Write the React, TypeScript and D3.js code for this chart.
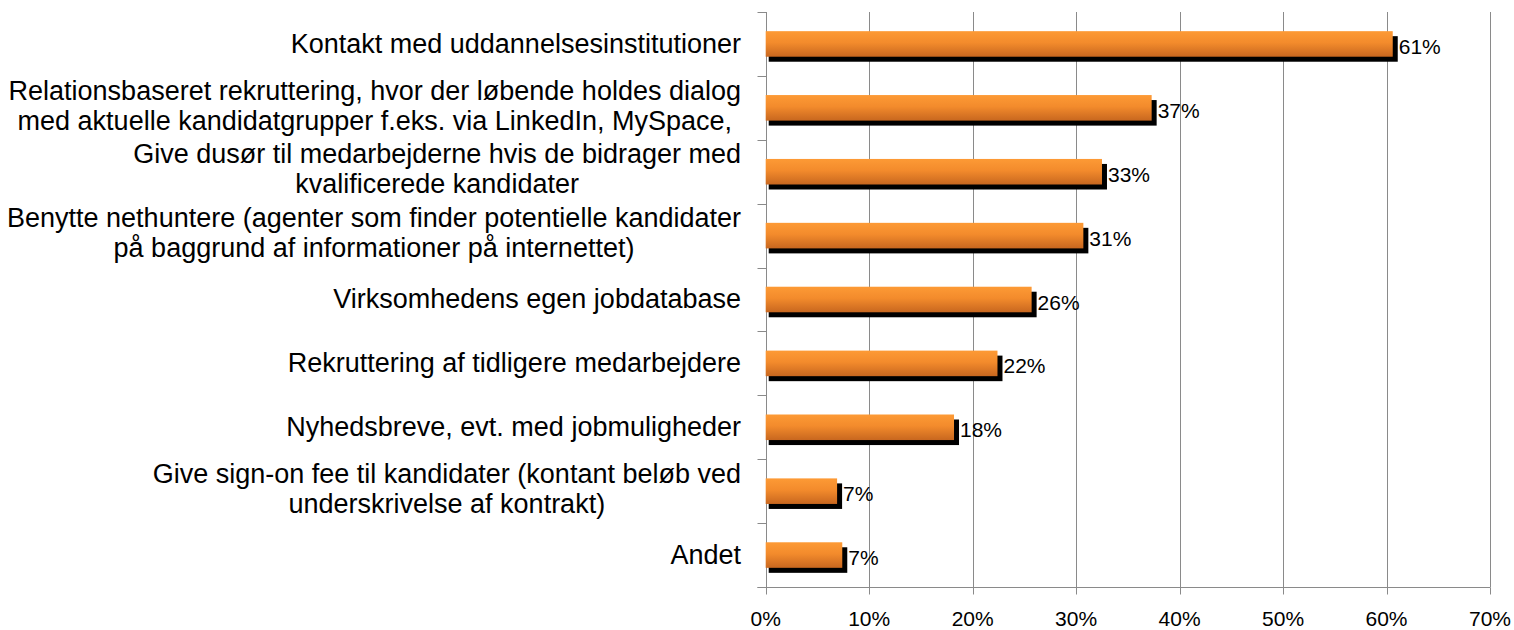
import React, { useEffect, useRef } from "react";
import * as d3 from "d3";

// category labels (line breaks as in the original chart)
const categories = [
  "Kontakt med uddannelsesinstitutioner",
  "Relationsbaseret rekruttering, hvor der løbende holdes dialog\nmed aktuelle kandidatgrupper f.eks. via LinkedIn, MySpace,",
  "Give dusør til medarbejderne hvis de bidrager med\nkvalificerede kandidater",
  "Benytte nethuntere (agenter som finder potentielle kandidater\npå baggrund af informationer på internettet)",
  "Virksomhedens egen jobdatabase",
  "Rekruttering af tidligere medarbejdere",
  "Nyhedsbreve, evt. med jobmuligheder",
  "Give sign-on fee til kandidater (kontant beløb ved\nunderskrivelse af kontrakt)",
  "Andet",
];

const values = [60.6, 37.3, 32.5, 30.7, 25.7, 22.4, 18.2, 6.9, 7.4];

const xTicks = [0, 10, 20, 30, 40, 50, 60, 70];

const App = () => {
  const ref = useRef<SVGSVGElement>(null);

  useEffect(() => {
    const width = 1514;
    const height = 630;
    const margin = { top: 12, right: 24, bottom: 43, left: 765.7 };
    const font = "'Liberation Sans', Arial, sans-serif";

    const svg = d3.select(ref.current);
    svg.selectAll("*").remove();
    svg.attr("width", width).attr("height", height);

    const x = d3
      .scaleLinear()
      .domain([0, 70])
      .range([margin.left, width - margin.right]);
    const y = d3
      .scaleBand<string>()
      .domain(categories)
      .range([margin.top, height - margin.bottom])
      .paddingInner(0.6)
      .paddingOuter(0.3);

    const defs = svg.append("defs");
    const grad = defs
      .append("linearGradient")
      .attr("id", "barGrad")
      .attr("x1", 0)
      .attr("y1", 0)
      .attr("x2", 0)
      .attr("y2", 1);
    grad.append("stop").attr("offset", "0%").attr("stop-color", "#fd9a35");
    grad.append("stop").attr("offset", "45%").attr("stop-color", "#f38b2c");
    grad.append("stop").attr("offset", "100%").attr("stop-color", "#c8671f");

    const axisColor = "#8a8a8a";
    const top = margin.top;
    const bottom = height - margin.bottom;

    // vertical grid
    svg
      .append("g")
      .selectAll("line")
      .data(xTicks.slice(1))
      .join("line")
      .attr("x1", (d) => Math.round(x(d)) + 0.5)
      .attr("x2", (d) => Math.round(x(d)) + 0.5)
      .attr("y1", top)
      .attr("y2", bottom)
      .attr("stroke", axisColor)
      .attr("stroke-width", 1);

    // y axis line + tick marks at band borders
    const ax0 = Math.round(x(0)) + 0.5;
    svg
      .append("line")
      .attr("x1", ax0)
      .attr("x2", ax0)
      .attr("y1", top)
      .attr("y2", bottom)
      .attr("stroke", axisColor);
    const step = y.step();
    const borders = d3.range(categories.length + 1).map((i) => top + i * step);
    svg
      .append("g")
      .selectAll("line")
      .data(borders)
      .join("line")
      .attr("x1", ax0 - 9)
      .attr("x2", ax0)
      .attr("y1", (d) => Math.round(d) + 0.5)
      .attr("y2", (d) => Math.round(d) + 0.5)
      .attr("stroke", axisColor);

    // x axis line + ticks + labels
    const by = Math.round(bottom) + 0.5;
    svg
      .append("line")
      .attr("x1", ax0 - 9)
      .attr("x2", Math.round(x(70)) + 0.5)
      .attr("y1", by)
      .attr("y2", by)
      .attr("stroke", axisColor);
    svg
      .append("g")
      .selectAll("line")
      .data(xTicks)
      .join("line")
      .attr("x1", (d) => Math.round(x(d)) + 0.5)
      .attr("x2", (d) => Math.round(x(d)) + 0.5)
      .attr("y1", by)
      .attr("y2", by + 7)
      .attr("stroke", axisColor);
    svg
      .append("g")
      .selectAll("text")
      .data(xTicks)
      .join("text")
      .attr("x", (d) => x(d))
      .attr("y", 626)
      .attr("text-anchor", "middle")
      .attr("font-family", font)
      .attr("font-size", "21px")
      .attr("fill", "#000")
      .text((d) => `${d}%`);

    // bars with shadow
    const bars = svg.append("g");
    const h = y.bandwidth();
    categories.forEach((c, i) => {
      const v = values[i];
      const y0 = y(c) as number;
      const w = x(v) - x(0);
      bars
        .append("rect")
        .attr("x", x(0) + 3)
        .attr("y", y0 + 5)
        .attr("width", w + 2)
        .attr("height", h)
        .attr("fill", "#000");
      bars
        .append("rect")
        .attr("x", x(0))
        .attr("y", y0)
        .attr("width", w)
        .attr("height", h)
        .attr("fill", "url(#barGrad)");
      bars
        .append("text")
        .attr("x", x(v) + 6)
        .attr("y", y0 + (h + 5) / 2)
        .attr("dy", "0.36em")
        .attr("font-family", font)
        .attr("font-size", "21px")
        .attr("fill", "#000")
        .text(`${Math.round(v)}%`);
    });

    // category labels: lines centred together, block right aligned
    const labelRight = 741;
    const lineH = 30;
    categories.forEach((c) => {
      const lines = c.split("\n");
      const cy = (y(c) as number) + h / 2 - (lines.length > 1 ? 3 : 1);
      const t = svg
        .append("text")
        .attr("font-family", font)
        .attr("font-size", "27px")
        .attr("fill", "#000")
        .attr("text-anchor", "middle");
      lines.forEach((ln, j) => {
        t.append("tspan")
          .attr("y", cy + (j - (lines.length - 1) / 2) * lineH)
          .attr("dy", "0.36em")
          .text(ln);
      });
      const tspans = t.selectAll<SVGTSpanElement, unknown>("tspan").nodes();
      const maxW = d3.max(tspans, (n) => n.getComputedTextLength()) || 0;
      t.selectAll("tspan").attr("x", labelRight - maxW / 2);
    });
  }, []);

  return (
    <div style={{ position: "absolute", left: 0, top: 0, background: "#fff" }}>
      <svg ref={ref}></svg>
    </div>
  );
};

export default App;
